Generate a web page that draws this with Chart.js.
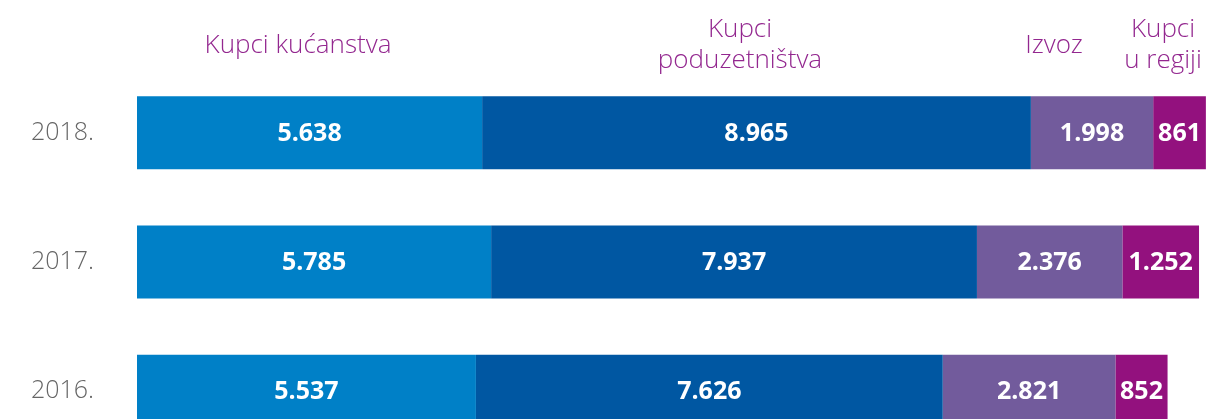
<!DOCTYPE html>
<html lang="hr">
<head>
  <meta charset="UTF-8" />
  <title>Kupci po segmentima</title>
  <script src="https://cdn.jsdelivr.net/npm/chart.js"></script>
  <style>
    html, body { margin: 0; padding: 0; background: #fff; overflow: hidden; }
  </style>
</head>
<body>
  <canvas id="barChart" width="1218" height="419"></canvas>

  <script>
    // podaci
    const years = ['2018.', '2017.', '2016.'];
    const segments = ['Kupci kućanstva', 'Kupci poduzetništva', 'Izvoz', 'Kupci u regiji'];
    const kucanstva = [5638, 5785, 5537];
    const poduzetnistva = [8965, 7937, 7626];
    const izvoz = [1998, 2376, 2821];
    const regija = [861, 1252, 852];

    const colors = ['#0080c7', '#0057a2', '#725b9c', '#93117e'];

    function fmt(n) {
      return String(n).replace(/\B(?=(\d{3})+(?!\d))/g, '.');
    }

    // header labels over the columns (x centre, lines)
    const headers = [
      { x: 298, lines: ['Kupci kućanstva'] },
      { x: 740, lines: ['Kupci', 'poduzetništva'] },
      { x: 1054, lines: ['Izvoz'] },
      { x: 1163, lines: ['Kupci', 'u regiji'] }
    ];

    // the last row is cut by the frame: stretch the plot below the canvas
    const overflowPlugin = {
      id: 'overflowPlugin',
      afterLayout(chart) {
        const y = chart.scales.y;
        const extra = (chart.height + 37) - y.bottom;
        y.bottom += extra;
        y.height += extra;
        chart.chartArea.bottom += extra;
        chart.chartArea.height += extra;
        y.configure();
      }
    };

    const labelsPlugin = {
      id: 'labelsPlugin',
      afterDatasetsDraw(chart) {
        const ctx = chart.ctx;
        ctx.save();
        ctx.fillStyle = '#fff';
        ctx.font = '700 25px "Open Sans", sans-serif';
        ctx.textAlign = 'center';
        ctx.textBaseline = 'middle';
        chart.data.datasets.forEach((ds, i) => {
          chart.getDatasetMeta(i).data.forEach((bar, j) => {
            const cx = (bar.x + bar.base) / 2;
            ctx.fillText(fmt(ds.data[j]), cx, bar.y + 1);
          });
        });

        ctx.fillStyle = '#93278f';
        ctx.font = '300 26px "Open Sans", sans-serif';
        ctx.textBaseline = 'alphabetic';
        headers.forEach(h => {
          if (h.lines.length === 1) {
            ctx.fillText(h.lines[0], h.x, 53);
          } else {
            ctx.fillText(h.lines[0], h.x, 37);
            ctx.fillText(h.lines[1], h.x, 68);
          }
        });
        ctx.restore();
      }
    };

    new Chart(document.getElementById('barChart'), {
      type: 'bar',
      data: {
        labels: years,
        datasets: [
          { label: segments[0], data: kucanstva, backgroundColor: colors[0] },
          { label: segments[1], data: poduzetnistva, backgroundColor: colors[1] },
          { label: segments[2], data: izvoz, backgroundColor: colors[2] },
          { label: segments[3], data: regija, backgroundColor: colors[3] }
        ]
      },
      options: {
        indexAxis: 'y',
        responsive: false,
        animation: false,
        layout: { padding: { top: 68, bottom: 0, left: 0, right: 0 } },
        datasets: {
          bar: { categoryPercentage: 1, barPercentage: 0.565, borderWidth: 0 }
        },
        plugins: {
          legend: { display: false },
          tooltip: { enabled: false }
        },
        scales: {
          x: {
            stacked: true,
            min: 0,
            max: 17660,
            display: false
          },
          y: {
            stacked: true,
            grid: { display: false, drawTicks: false },
            border: { display: false },
            ticks: {
              color: '#666',
              padding: 43,
              font: { family: '"Open Sans", sans-serif', size: 25, weight: '300' }
            },
            afterFit(scale) { scale.width = 137; }
          }
        }
      },
      plugins: [overflowPlugin, labelsPlugin]
    });
  </script>
</body>
</html>
